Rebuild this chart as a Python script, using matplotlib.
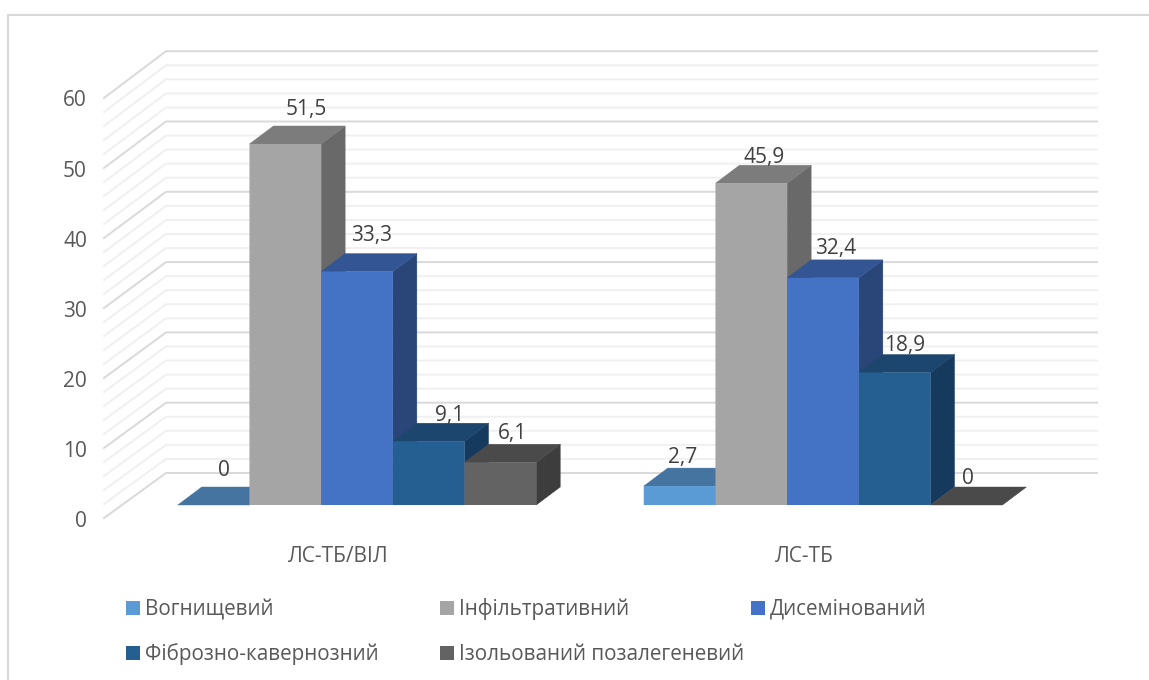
import numpy as np
import matplotlib.pyplot as plt
from matplotlib.patches import Polygon, Rectangle

categories = ["ЛС-ТБ/ВІЛ", "ЛС-ТБ"]
series_names = ["Вогнищевий", "Інфільтративний", "Дисемінований",
                "Фіброзно-кавернозний", "Ізольований позалегеневий"]
focal = [0, 2.7]
infiltrative = [51.5, 45.9]
disseminated = [33.3, 32.4]
fibrous = [9.1, 18.9]
extrapulmonary = [6.1, 0]
value_ticks = [0, 10, 20, 30, 40, 50, 60]

front_colors = ["#5B9BD5", "#A5A5A5", "#4472C4", "#255E91", "#636363"]
top_colors = ["#44749F", "#7C7C7C", "#335593", "#1C466D", "#4A4A4A"]
side_colors = ["#37638A", "#696969", "#2A4679", "#163A5E", "#3D3D3D"]

# pixels per unit on each axis, the canvas is 1149x680
W, H = 1149, 680
PX_CAT = 466.0
PX_VAL = 7.01
X0, Y0 = 357.0, 505.0

BAR_W = 71.7 / PX_CAT
DEPTH_X = 24 / PX_CAT
DEPTH_Y = 18 / PX_VAL


def cx(px):
    return (px - X0) / PX_CAT


def vy(py):
    return (Y0 - py) / PX_VAL


plt.rcParams["font.family"] = ["Open Sans", "DejaVu Sans"]

fig = plt.figure(figsize=(W / 100, H / 100), dpi=100, facecolor="white")
ax = fig.add_axes([0, 0, 1, 1])
ax.set_xlim(cx(0), cx(W))
ax.set_ylim(vy(H), vy(0))
ax.axis("off")

# outer chart frame runs off the right and bottom edges
ax.plot([cx(8), cx(8), cx(W)], [vy(H), vy(15), vy(15)], color="#D9D9D9", lw=1.5, zorder=1)

# back wall and left wall gridlines, major every 10, minor every 2
for v in range(0, 61, 2):
    color = "#D9D9D9" if v % 10 == 0 else "#F0F0F0"
    wall_y = vy(473) + v * 70.3 / 70.1
    floor_y = vy(518) + v * 70.0 / 70.1
    ax.plot([cx(104), cx(166), cx(1097)], [floor_y, wall_y, wall_y],
            color=color, lw=1.4, zorder=1 if v % 10 else 1.5, solid_joinstyle="miter")

for v in value_ticks:
    ax.annotate(str(v), (cx(87), vy(521.5) + v), ha="right", va="center",
                fontsize=15, color="#595959")

for i, name in enumerate(categories):
    ax.annotate(name, (i, vy(556)), xytext=(-19, 0), textcoords="offset pixels",
                ha="center", va="center", fontsize=15, color="#595959")

series = [focal, infiltrative, disseminated, fibrous, extrapulmonary]
lefts = np.arange(5) * BAR_W - 2.5 * BAR_W

# each box is side, top then front, left to right so later bars cover earlier ones
for k, values in enumerate(series):
    for i, v in enumerate(values):
        x = i + lefts[k]
        ax.add_patch(Polygon([(x + BAR_W, 0), (x + BAR_W + DEPTH_X, DEPTH_Y),
                              (x + BAR_W + DEPTH_X, v + DEPTH_Y), (x + BAR_W, v)],
                             fc=side_colors[k], ec=side_colors[k], lw=0.3, zorder=3 + k))
        ax.add_patch(Polygon([(x, v), (x + DEPTH_X, v + DEPTH_Y),
                              (x + BAR_W + DEPTH_X, v + DEPTH_Y), (x + BAR_W, v)],
                             fc=top_colors[k], ec=top_colors[k], lw=0.3, zorder=3 + k))
        ax.bar(x, v, BAR_W, align="edge", color=front_colors[k], lw=0, zorder=3 + k, snap=False)

# hand-placed value labels, offsets from the front top centre of each bar
label_dx = [[10, 21, 15, 21, 12], [3, 13, 13, 10, 2]]
label_dy = [[34, 34, 36, 26, 29], [29, 26, 29, 27, 26]]
for k, values in enumerate(series):
    for i, v in enumerate(values):
        ax.annotate(str(v).replace(".", ","), (i + lefts[k] + BAR_W / 2, v),
                    xytext=(label_dx[i][k], label_dy[i][k]), textcoords="offset pixels",
                    ha="center", va="center", fontsize=15, color="#404040", zorder=20)

# legend laid out in rows, same reading order as the series
legend_x = [126, 440, 751, 126, 440]
legend_y = [608, 608, 608, 653, 653]
for k, name in enumerate(series_names):
    ax.add_patch(Rectangle((cx(legend_x[k]), vy(legend_y[k] + 7)), 14 / PX_CAT, 14 / PX_VAL,
                           color=front_colors[k], lw=0))
    ax.text(cx(legend_x[k] + 19), vy(legend_y[k] + 1.5), name, ha="left", va="center",
            fontsize=14.9, color="#595959")

fig.savefig("out.png", dpi=100)
